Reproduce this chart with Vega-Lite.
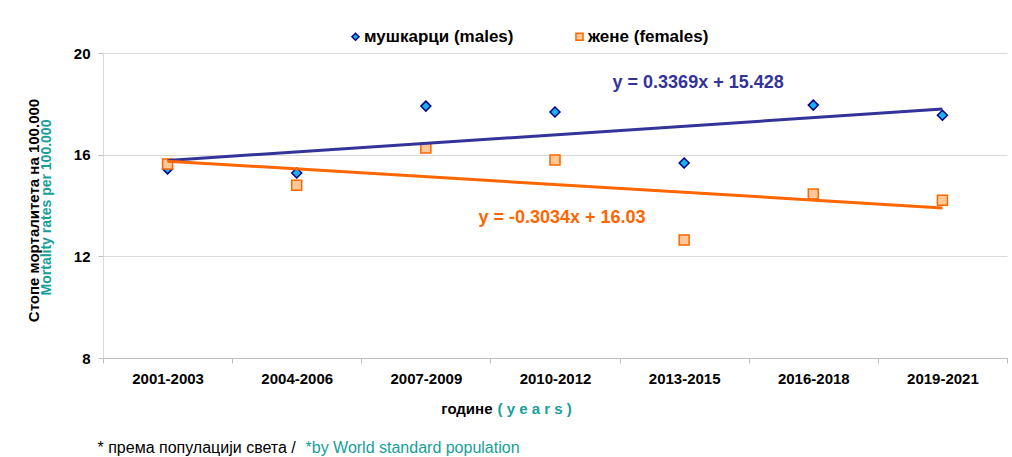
{
  "$schema": "https://vega.github.io/schema/vega-lite/v6.json",
  "width": 904,
  "height": 305,
  "autosize": {"type": "none"},
  "padding": {"left": 103, "top": 53, "right": 5, "bottom": 99},
  "background": "white",
  "config": {
    "font": "Liberation Sans",
    "view": {"stroke": null},
    "axis": {"labelFont": "Liberation Sans", "titleFont": "Liberation Sans"},
    "legend": {"labelFont": "Liberation Sans"}
  },
  "datasets": {
    "periods": [
      {"i": 1, "period": "2001-2003"},
      {"i": 2, "period": "2004-2006"},
      {"i": 3, "period": "2007-2009"},
      {"i": 4, "period": "2010-2012"},
      {"i": 5, "period": "2013-2015"},
      {"i": 6, "period": "2016-2018"},
      {"i": 7, "period": "2019-2021"}
    ],
    "rates": [
      {"i": 1, "period": "2001-2003", "sex": "мушкарци (males)", "rate": 15.44},
      {"i": 2, "period": "2004-2006", "sex": "мушкарци (males)", "rate": 15.28},
      {"i": 3, "period": "2007-2009", "sex": "мушкарци (males)", "rate": 17.91},
      {"i": 4, "period": "2010-2012", "sex": "мушкарци (males)", "rate": 17.68},
      {"i": 5, "period": "2013-2015", "sex": "мушкарци (males)", "rate": 15.67},
      {"i": 6, "period": "2016-2018", "sex": "мушкарци (males)", "rate": 17.95},
      {"i": 7, "period": "2019-2021", "sex": "мушкарци (males)", "rate": 17.55},
      {"i": 1, "period": "2001-2003", "sex": "жене (females)", "rate": 15.63},
      {"i": 2, "period": "2004-2006", "sex": "жене (females)", "rate": 14.8},
      {"i": 3, "period": "2007-2009", "sex": "жене (females)", "rate": 16.26},
      {"i": 4, "period": "2010-2012", "sex": "жене (females)", "rate": 15.79},
      {"i": 5, "period": "2013-2015", "sex": "жене (females)", "rate": 12.64},
      {"i": 6, "period": "2016-2018", "sex": "жене (females)", "rate": 14.45},
      {"i": 7, "period": "2019-2021", "sex": "жене (females)", "rate": 14.21}
    ]
  },
  "resolve": {"axis": {"x": "independent", "y": "independent"}},
  "layer": [
    {
      "data": {"name": "rates"},
      "mark": {"type": "point", "opacity": 1, "strokeWidth": 1.5, "size": 100},
      "encoding": {
        "x": {
          "field": "period", "type": "ordinal",
          "scale": {"type": "band", "paddingInner": 0, "paddingOuter": 0,
            "domain": ["2001-2003", "2004-2006", "2007-2009", "2010-2012", "2013-2015", "2016-2018", "2019-2021"]},
          "axis": {
            "orient": "bottom",
            "title": "године", "titleX": 389, "titleY": 50, "titleAlign": "right", "titleBaseline": "middle",
            "titleFontSize": 15, "titleFontWeight": "bold", "titleColor": "#000000",
            "labelAngle": 0, "labelFontSize": 15, "labelFontWeight": "bold", "labelColor": "#000000", "labelPadding": 8,
            "tickBand": "extent", "tickSize": 5, "tickColor": "#BFBFBF", "domainColor": "#BFBFBF", "grid": false
          }
        },
        "y": {
          "field": "rate", "type": "quantitative",
          "scale": {"domain": [8, 20], "nice": false, "zero": false},
          "axis": {
            "orient": "left",
            "values": [8, 12, 16, 20], "grid": true, "gridColor": "#D9D9D9", "domainColor": "#D9D9D9",
            "tickColor": "#BFBFBF", "tickSize": 5, "labelFontSize": 15, "labelFontWeight": "bold", "labelColor": "#000000", "labelPadding": 8,
            "title": "Mortality rates per 100.000", "titleColor": "#169E9B", "titleFontSize": 14, "titleFontWeight": "bold",
            "titleX": -57, "titleY": 154, "titleBaseline": "middle", "titleAlign": "center", "titleAngle": -90
          }
        },
        "shape": {
          "field": "sex", "type": "nominal",
          "scale": {"domain": ["мушкарци (males)", "жене (females)"], "range": ["diamond", "square"]},
          "legend": {
            "orient": "none", "legendX": 244, "legendY": -25, "direction": "horizontal", "columns": 2,
            "title": null, "labelFontSize": 17, "labelFontWeight": "bold", "symbolSize": 50, "symbolStrokeWidth": 1.5,
            "columnPadding": 57, "labelOffset": 0, "padding": 0,
            "encode": {"labels": {"update": {"fill": {"signal": "datum.value === 'мушкарци (males)' ? '#333399' : '#FF6600'"}}}}
          }
        },
        "fill": {
          "field": "sex", "type": "nominal",
          "scale": {"domain": ["мушкарци (males)", "жене (females)"], "range": ["#14B2EE", "#FFC896"]}
        },
        "stroke": {
          "field": "sex", "type": "nominal",
          "scale": {"domain": ["мушкарци (males)", "жене (females)"], "range": ["#000080", "#FF6600"]}
        }
      }
    },
    {
      "data": {"name": "rates"},
      "transform": [
        {"regression": "rate", "on": "i", "groupby": ["sex"]},
        {"lookup": "i", "from": {"data": {"name": "periods"}, "key": "i", "fields": ["period"]}}
      ],
      "mark": {"type": "line", "strokeWidth": 3},
      "encoding": {
        "x": {
          "field": "period", "type": "ordinal",
          "axis": {
            "orient": "bottom", "labels": false, "ticks": false, "domain": false, "grid": false,
            "title": "( y e a r s )", "titleX": 394, "titleY": 50, "titleAlign": "left", "titleBaseline": "middle",
            "titleFontSize": 15, "titleFontWeight": "bold", "titleColor": "#169E9B"
          }
        },
        "y": {
          "field": "rate", "type": "quantitative",
          "axis": {
            "orient": "left", "labels": false, "ticks": false, "domain": false, "grid": false,
            "title": "Стопе морталитета на 100.000", "titleColor": "#000000", "titleFontSize": 15, "titleFontWeight": "bold",
            "titleX": -70, "titleY": 157, "titleBaseline": "middle", "titleAlign": "center", "titleAngle": -90
          }
        },
        "detail": {"field": "sex", "type": "nominal"},
        "stroke": {"condition": {"test": "datum.sex === 'мушкарци (males)'", "value": "#333399"}, "value": "#FF6600"}
      }
    },
    {
      "data": {"values": [{"period": "2013-2015", "y": 18.82, "label": "y = 0.3369x + 15.428"}]},
      "mark": {"type": "text", "dx": 14, "fontSize": 18, "fontWeight": "bold", "color": "#333399", "baseline": "middle"},
      "encoding": {
        "x": {
          "field": "period", "type": "ordinal",
          "axis": {
            "orient": "bottom", "labels": false, "ticks": false, "domain": false, "grid": false,
            "title": "* према популацији света /", "titleX": -6, "titleY": 89, "titleAlign": "left", "titleBaseline": "middle",
            "titleFontSize": 16, "titleFontWeight": "normal", "titleColor": "#000000"
          }
        },
        "y": {"field": "y", "type": "quantitative", "axis": null},
        "text": {"field": "label"}
      }
    },
    {
      "data": {"values": [{"period": "2010-2012", "y": 13.5, "label": "y = -0.3034x + 16.03"}]},
      "mark": {"type": "text", "dx": 7, "fontSize": 18, "fontWeight": "bold", "color": "#FF6600", "baseline": "middle"},
      "encoding": {
        "x": {
          "field": "period", "type": "ordinal",
          "axis": {
            "orient": "bottom", "labels": false, "ticks": false, "domain": false, "grid": false,
            "title": "*by World standard population", "titleX": 202, "titleY": 89, "titleAlign": "left", "titleBaseline": "middle",
            "titleFontSize": 16, "titleFontWeight": "normal", "titleColor": "#169E9B"
          }
        },
        "y": {"field": "y", "type": "quantitative", "axis": null},
        "text": {"field": "label"}
      }
    }
  ]
}
